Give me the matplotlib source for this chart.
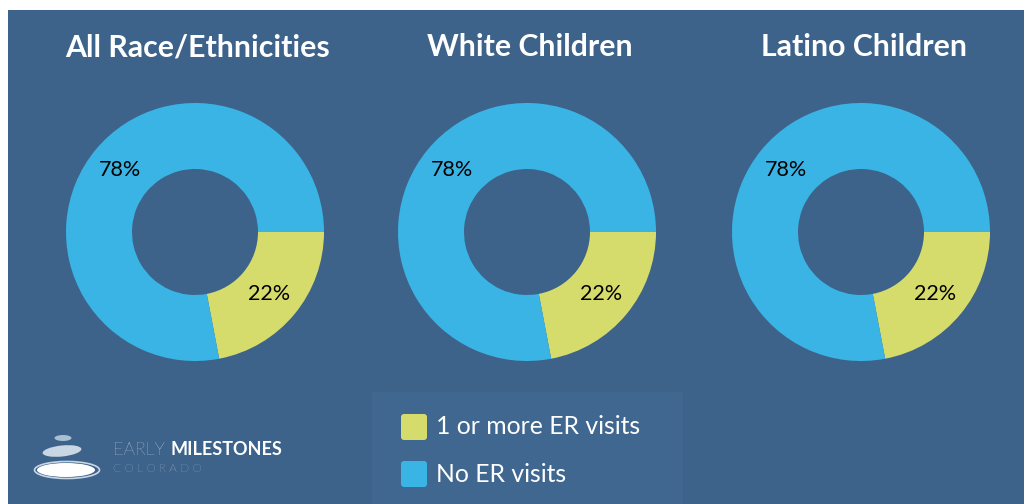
import matplotlib.pyplot as plt
from matplotlib.patches import Ellipse, FancyBboxPatch, Rectangle

plt.rcParams['font.family'] = ['Lato', 'DejaVu Sans']

groups = ["All Race/Ethnicities", "White Children", "Latino Children"]
er_visits = [22, 22, 22]
no_er_visits = [78, 78, 78]
legend_labels = ["1 or more ER visits", "No ER visits"]

BG = "#3d638b"
PANEL = "#3f6790"
YELLOW = "#d6dc6c"
BLUE = "#3ab4e4"

W, H = 1026, 504
fig = plt.figure(figsize=(W / 100, H / 100), dpi=100)
fig.patch.set_facecolor("white")
ax = fig.add_axes([0, 0, 1, 1])
ax.set_axis_off()

# background card (white margin at top/left)
ax.add_patch(Rectangle((8, 0), W - 10, H - 10, facecolor=BG, edgecolor="none", zorder=0))

centers_x = [195, 527, 861]
cy = H - 232
radius = 129
ring = 66

for x, title, er, no in zip(centers_x, groups, er_visits, no_er_visits):
    wedges, texts, autotexts = ax.pie(
        [er, no], colors=[YELLOW, BLUE], startangle=0, counterclock=False,
        center=(x, cy), radius=radius, frame=True,
        wedgeprops=dict(width=ring, edgecolor="none"),
        autopct="%.0f%%", pctdistance=0.75,
        textprops=dict(fontsize=15.5, color="black"))
    ax.text(x + 3, H - 47, title, ha="center", va="center", color="white",
            fontsize=21.8, fontweight="bold")

# legend panel
ax.add_patch(Rectangle((372, 0), 311, H - 392, facecolor=PANEL, edgecolor="none", zorder=1))
for i, (lab, col) in enumerate(zip(legend_labels, [YELLOW, BLUE])):
    yc = H - 427 - i * 47
    ax.add_patch(FancyBboxPatch((402, yc - 12), 24, 24, boxstyle="round,pad=1,rounding_size=3",
                                facecolor=col, edgecolor="none", zorder=2))
    ax.text(436, yc, lab, ha="left", va="center", color="white", fontsize=17.8, zorder=3)

# logo
ax.add_patch(Ellipse((63, H - 438), 17, 6, facecolor="#a9bfd4", edgecolor="none", zorder=2))
ax.add_patch(Ellipse((62, H - 451), 39, 11, angle=6, facecolor="#c9d6e3", edgecolor="none", zorder=2))
ax.add_patch(Ellipse((67, H - 470), 65, 17, facecolor="none", edgecolor="#c9d6e3", lw=1.2, zorder=2))
ax.add_patch(Ellipse((66, H - 470), 58, 14, facecolor="white", edgecolor="none", zorder=2))
t = ax.text(113, H - 450, "EARLY ", ha="left", va="center", color="#eef2f7",
            fontsize=13, fontweight="light")
ax.annotate("MILESTONES", xycoords=t, xy=(1, 0), va="bottom", ha="left",
            color="white", fontsize=13, fontweight="bold")
ax.text(113, H - 468, "C O L O R A D O", ha="left", va="center", color="#d3dde8",
        fontsize=8.5, fontweight="light")

ax.set_xlim(0, W)
ax.set_ylim(0, H)
fig.savefig("out.png", dpi=100, facecolor=fig.get_facecolor())
